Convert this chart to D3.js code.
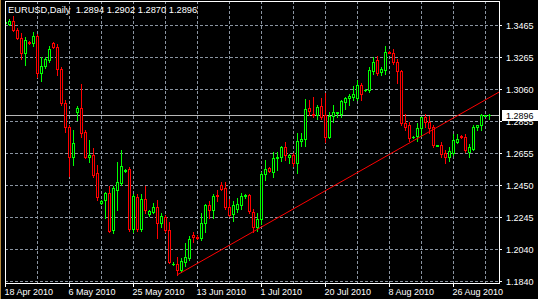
<!DOCTYPE html>
<html><head><meta charset="utf-8">
<script src="https://cdn.jsdelivr.net/npm/d3@7"></script>
<style>html,body{margin:0;padding:0;background:#000;overflow:hidden}</style>
</head><body><svg id="c" width="538" height="299"></svg>
<script>
const symbol = "EURUSD", period = "Daily";
const dates = [
"2010-04-18","2010-04-19","2010-04-20","2010-04-21","2010-04-22","2010-04-23",
"2010-04-25","2010-04-26","2010-04-27","2010-04-28","2010-04-29","2010-04-30",
"2010-05-02","2010-05-03","2010-05-04","2010-05-05","2010-05-06","2010-05-07",
"2010-05-09","2010-05-10","2010-05-11","2010-05-12","2010-05-13","2010-05-14",
"2010-05-16","2010-05-17","2010-05-18","2010-05-19","2010-05-20","2010-05-21",
"2010-05-23","2010-05-24","2010-05-25","2010-05-26","2010-05-27","2010-05-28",
"2010-05-30","2010-05-31","2010-06-01","2010-06-02","2010-06-03","2010-06-04",
"2010-06-06","2010-06-07","2010-06-08","2010-06-09","2010-06-10","2010-06-11",
"2010-06-13","2010-06-14","2010-06-15","2010-06-16","2010-06-17","2010-06-18",
"2010-06-20","2010-06-21","2010-06-22","2010-06-23","2010-06-24","2010-06-25",
"2010-06-27","2010-06-28","2010-06-29","2010-06-30","2010-07-01","2010-07-02",
"2010-07-04","2010-07-05","2010-07-06","2010-07-07","2010-07-08","2010-07-09",
"2010-07-11","2010-07-12","2010-07-13","2010-07-14","2010-07-15","2010-07-16",
"2010-07-18","2010-07-19","2010-07-20","2010-07-21","2010-07-22","2010-07-23",
"2010-07-25","2010-07-26","2010-07-27","2010-07-28","2010-07-29","2010-07-30",
"2010-08-01","2010-08-02","2010-08-03","2010-08-04","2010-08-05","2010-08-06",
"2010-08-08","2010-08-09","2010-08-10","2010-08-11","2010-08-12","2010-08-13",
"2010-08-15","2010-08-16","2010-08-17","2010-08-18","2010-08-19","2010-08-20",
"2010-08-22","2010-08-23","2010-08-24","2010-08-25","2010-08-26","2010-08-27",
"2010-08-29","2010-08-30","2010-08-31","2010-09-01","2010-09-02","2010-09-03",
"2010-09-05","2010-09-06"];
const open = [
1.3475,1.3470,1.3488,1.3436,1.3383,1.3288, 1.3358,1.3352,1.3395,1.3161,1.3205,1.3245,
1.3350,1.3326,1.3186,1.2970,1.2818,1.2627, 1.2915,1.2940,1.2786,1.2628,1.2640,1.2526,
1.2338,1.2354,1.2399,1.2164,1.2418,1.2462, 1.2540,1.2548,1.2170,1.2375,1.2170,1.2360,
1.2265,1.2280,1.2310,1.2210,1.2245,1.2164, 1.1945,1.1950,1.1910,1.1960,1.1986,1.2130,
1.2120,1.2115,1.2208,1.2323,1.2290,1.2385, 1.2450,1.2430,1.2310,1.2265,1.2300,1.2325,
1.2378,1.2385,1.2280,1.2185,1.2235,1.2519, 1.2558,1.2532,1.2620,1.2625,1.2690,1.2630,
1.2640,1.2590,1.2730,1.2740,1.2935,1.2900, 1.2895,1.2950,1.2894,1.2754,1.2890,1.2905,
1.2900,1.2975,1.3000,1.3010,1.3000,1.3085, 1.3050,1.3053,1.3175,1.3240,1.3165,1.3180,
1.3295,1.3290,1.3230,1.3170,1.2843,1.2830, 1.2755,1.2760,1.2812,1.2880,1.2850,1.2820,
1.2700,1.2704,1.2650,1.2627,1.2650,1.2725, 1.2760,1.2755,1.2660,1.2680,1.2818,1.2830,
1.2890,1.2894];
const high = [
1.3487,1.3502,1.3525,1.3445,1.3415,1.3390, 1.3365,1.3420,1.3405,1.3262,1.3260,1.3332,
1.3357,1.3345,1.3200,1.2990,1.2830,1.2799, 1.2950,1.3091,1.2799,1.2735,1.2685,1.2577,
1.2355,1.2405,1.2443,1.2440,1.2596,1.2672, 1.2550,1.2565,1.2390,1.2390,1.2395,1.2445,
1.2290,1.2335,1.2354,1.2270,1.2260,1.2215, 1.1960,1.1992,1.1985,1.2080,1.2125,1.2150,
1.2130,1.2270,1.2330,1.2350,1.2390,1.2420, 1.2470,1.2470,1.2360,1.2350,1.2370,1.2400,
1.2390,1.2390,1.2300,1.2270,1.2535,1.2608, 1.2565,1.2660,1.2660,1.2700,1.2720,1.2645,
1.2650,1.2780,1.2780,1.2995,1.2990,1.3008, 1.2960,1.3000,1.3034,1.2910,1.2960,1.2915,
1.2990,1.3010,1.3030,1.3080,1.3116,1.3100, 1.3060,1.3200,1.3260,1.3270,1.3200,1.3332,
1.3300,1.3310,1.3250,1.3180,1.2900,1.2850, 1.2760,1.2840,1.2880,1.2900,1.2890,1.2830,
1.2705,1.2720,1.2670,1.2690,1.2770,1.2770, 1.2765,1.2770,1.2710,1.2830,1.2830,1.2900,
1.2895,1.2902];
const low = [
1.3468,1.3462,1.3430,1.3375,1.3250,1.3210, 1.3345,1.3330,1.3135,1.3110,1.3195,1.3230,
1.3320,1.3148,1.2958,1.2786,1.2507,1.2577, 1.2862,1.2754,1.2620,1.2596,1.2500,1.2354,
1.2330,1.2240,1.2150,1.2145,1.2291,1.2450, 1.2530,1.2160,1.2150,1.2160,1.2160,1.2270,
1.2255,1.2270,1.2110,1.2180,1.2150,1.1955, 1.1940,1.1876,1.1895,1.1935,1.1975,1.2090,
1.2105,1.2100,1.2150,1.2240,1.2240,1.2350, 1.2420,1.2300,1.2250,1.2220,1.2280,1.2300,
1.2370,1.2270,1.2154,1.2160,1.2200,1.2480, 1.2535,1.2500,1.2545,1.2600,1.2610,1.2590,
1.2570,1.2525,1.2700,1.2700,1.2895,1.2880, 1.2870,1.2870,1.2720,1.2745,1.2850,1.2880,
1.2880,1.2930,1.2960,1.2990,1.2990,1.2990, 1.3045,1.3040,1.3155,1.3150,1.3150,1.3155,
1.3285,1.3220,1.3100,1.2830,1.2800,1.2730, 1.2745,1.2730,1.2760,1.2820,1.2780,1.2690,
1.2695,1.2630,1.2588,1.2600,1.2640,1.2715, 1.2750,1.2660,1.2630,1.2670,1.2800,1.2800,
1.2885,1.2870];
const close = [
1.3482,1.3490,1.3436,1.3383,1.3288,1.3370, 1.3352,1.3395,1.3161,1.3205,1.3250,1.3313,
1.3326,1.3186,1.2970,1.2818,1.2627,1.2716, 1.2940,1.2780,1.2627,1.2640,1.2513,1.2373,
1.2345,1.2399,1.2158,1.2431,1.2469,1.2570, 1.2545,1.2170,1.2380,1.2170,1.2360,1.2290,
1.2285,1.2310,1.2210,1.2250,1.2164,1.1960, 1.1950,1.1910,1.1967,1.1992,1.2107,1.2118,
1.2115,1.2208,1.2323,1.2290,1.2380,1.2378, 1.2425,1.2310,1.2260,1.2320,1.2330,1.2380,
1.2385,1.2285,1.2185,1.2235,1.2519,1.2551, 1.2540,1.2621,1.2628,1.2691,1.2640,1.2640,
1.2590,1.2730,1.2742,1.2932,1.2922,1.2895, 1.2945,1.2880,1.2754,1.2890,1.2910,1.2910,
1.2980,1.3000,1.3015,1.3030,1.3085,1.3030, 1.3055,1.3180,1.3230,1.3160,1.3185,1.3295,
1.3290,1.3230,1.3170,1.2843,1.2818,1.2750, 1.2757,1.2812,1.2880,1.2850,1.2812,1.2704,
1.2703,1.2645,1.2627,1.2665,1.2735,1.2740, 1.2755,1.2670,1.2690,1.2818,1.2828,1.2894,
1.2892,1.2896];
const yTickValues = [1.1840,1.2043,1.2246,1.2449,1.2653,1.2856,1.3059,1.3262,1.3465];
const yTickLabels = ["1.1840","1.2040","1.2245","1.2450","1.2655","1.2855","1.3060","1.3265","1.3465"];
const trendDates = ["2010-06-07","2010-06-29"];
const trendPrices = [1.1880,1.2154];

const W = 538, H = 299;
const L = 5, R = 499, T = 1, B = 283;
const svg = d3.select("#c");
svg.append("rect").attr("width",W).attr("height",H).attr("fill","#000");

const x = d3.scalePoint().domain(dates).range([5, 5 + 4*(dates.length-1)]);
const y = d3.scaleLinear().domain([1.1840, 1.3465]).range([281, 25]);
const fmt = d3.format(".4f");
const parse = d3.timeParse("%Y-%m-%d");
const dfmt = d3.timeFormat("%-d %b %Y");
const font = "'Liberation Sans', Arial, sans-serif";
const gridC = "#8a94a0";

const grid = svg.append("g");
grid.selectAll("line.h").data(yTickValues).join("line")
  .attr("x1", L).attr("x2", R)
  .attr("y1", d => Math.round(y(d)) + 0.5).attr("y2", d => Math.round(y(d)) + 0.5)
  .attr("stroke", gridC).attr("stroke-dasharray", "3,2");
const vDates = dates.filter((d,i) => i % 8 === 0 && i > 0);
grid.selectAll("line.v").data(vDates).join("line")
  .attr("x1", d => x(d) + 0.5).attr("x2", d => x(d) + 0.5)
  .attr("y1", T).attr("y2", B)
  .attr("stroke", gridC).attr("stroke-dasharray", "3,2");

const last = dates.length - 1;
const bid = close[last];
svg.append("line").attr("x1", L).attr("x2", R)
  .attr("y1", Math.round(y(bid)) + 0.5).attr("y2", Math.round(y(bid)) + 0.5)
  .attr("stroke", "#b8b8b8");

svg.append("clipPath").attr("id","plot").append("rect")
  .attr("x", L+1).attr("y", T+1).attr("width", R-L-1).attr("height", B-T-1);
const cg = svg.append("g").attr("clip-path","url(#plot)");
const bars = dates.map((d,i) => ({d, o:open[i], h:high[i], l:low[i], c:close[i]}));
bars.forEach(b => {
  const cx = x(b.d);
  const col = b.c >= b.o ? "#00ff00" : "#ff0000";
  const yh = Math.round(y(b.h)), yl = Math.round(y(b.l));
  const yt = Math.round(y(Math.max(b.o,b.c))), yb = Math.round(y(Math.min(b.o,b.c)));
  cg.append("line").attr("x1", cx+0.5).attr("x2", cx+0.5)
    .attr("y1", yh).attr("y2", yl+1).attr("stroke", col);
  if (yb - yt >= 1) {
    cg.append("rect").attr("x", cx-0.5).attr("y", yt+0.5)
      .attr("width", 2).attr("height", yb-yt)
      .attr("fill", "#000").attr("stroke", col);
  } else {
    cg.append("line").attr("x1", cx-1).attr("x2", cx+2)
      .attr("y1", yt+0.5).attr("y2", yt+0.5).attr("stroke", col);
  }
});

const tx1 = x(trendDates[0]) + 0.5, ty1 = y(trendPrices[0]);
const tx2 = x(trendDates[1]) + 0.5, ty2 = y(trendPrices[1]);
const slope = (ty2 - ty1) / (tx2 - tx1);
cg.append("line").attr("x1", tx1).attr("y1", ty1)
  .attr("x2", R).attr("y2", ty1 + slope*(R - tx1))
  .attr("stroke", "#ff0000").attr("stroke-width", 1);

svg.append("rect").attr("x", L+0.5).attr("y", T+0.5).attr("width", R-L).attr("height", B-T)
  .attr("fill","none").attr("stroke","#fff");
svg.append("line").attr("x1",0.5).attr("x2",0.5).attr("y1",0).attr("y2",H)
  .attr("stroke","#b8893a");

const ya = svg.append("g");
ya.selectAll("line").data(yTickValues).join("line")
  .attr("x1", R+1).attr("x2", R+3)
  .attr("y1", d => Math.round(y(d))+0.5).attr("y2", d => Math.round(y(d))+0.5)
  .attr("stroke","#fff");
ya.selectAll("text").data(yTickValues).join("text")
  .attr("x", 506).attr("y", d => Math.round(y(d)) + 3.5)
  .attr("fill","#fff").attr("font-family",font).attr("font-size","9px")
  .text((d,i) => yTickLabels[i]);

svg.append("rect").attr("x", 502).attr("y", Math.round(y(bid)) - 5)
  .attr("width", 36).attr("height", 11).attr("fill","#fff");
svg.append("text").attr("x", 506).attr("y", Math.round(y(bid)) + 3.5)
  .attr("fill","#000").attr("font-family",font).attr("font-size","9px")
  .text(fmt(bid));

const lDates = dates.filter((d,i) => i % 16 === 0);
const xa = svg.append("g");
xa.selectAll("line").data(lDates).join("line")
  .attr("x1", d => x(d)+0.5).attr("x2", d => x(d)+0.5)
  .attr("y1", B+1).attr("y2", B+4).attr("stroke","#fff");
xa.selectAll("text").data(lDates).join("text")
  .attr("x", d => x(d) - 0.5).attr("y", 295)
  .attr("fill","#fff").attr("font-family",font).attr("font-size","9px")
  .text(d => dfmt(parse(d)));

svg.append("text").attr("x", 8).attr("y", 12.5)
  .attr("fill","#fff").attr("font-family",font).attr("font-size","9.3px")
  .style("white-space","pre")
  .text(`${symbol},${period}  ${fmt(open[last])} ${fmt(high[last])} ${fmt(low[last])} ${fmt(close[last])}`);
</script></body></html>
